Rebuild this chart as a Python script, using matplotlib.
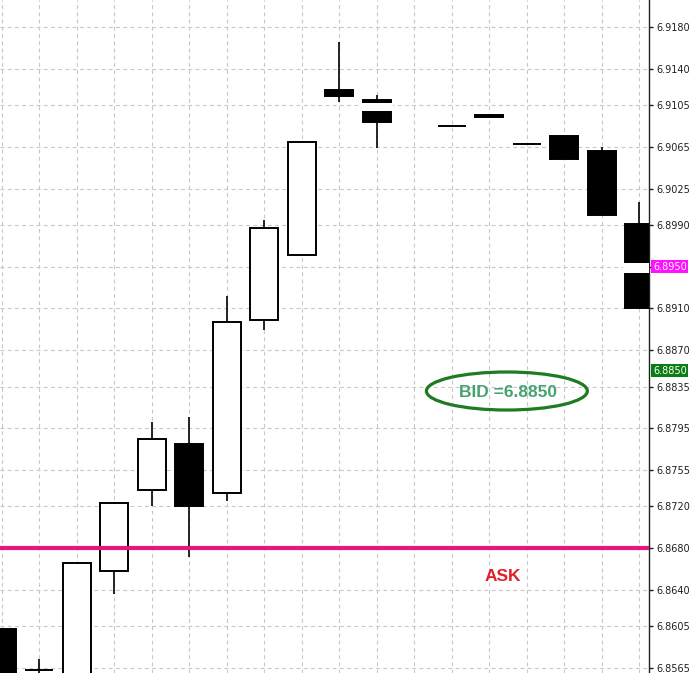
import matplotlib.pyplot as plt
import matplotlib.transforms as mtransforms
from matplotlib.patches import Ellipse

# candle data (bar index, open, high, low, close); bar 11 is missing in the picture
bar_idx = [0, 1, 2, 3, 4, 5, 6, 7, 8, 9, 10, 12, 13, 14, 15, 16, 17]
opens = [6.8602, 6.8563, 6.8540, 6.8658, 6.8736, 6.8780, 6.8733, 6.8899, 6.8961,
         6.9120, 6.9110, 6.9085, 6.9096, 6.9068, 6.9075, 6.9061, 6.8991]
highs = [6.8602, 6.8573, 6.8666, 6.8723, 6.8801, 6.8806, 6.8922, 6.8995, 6.9070,
         6.9166, 6.9115, 6.9085, 6.9096, 6.9068, 6.9075, 6.9065, 6.9012]
lows = [6.8540, 6.8550, 6.8540, 6.8636, 6.8720, 6.8671, 6.8725, 6.8889, 6.8961,
        6.9108, 6.9064, 6.9085, 6.9094, 6.9068, 6.9053, 6.9000, 6.8910]
closes = [6.8548, 6.8563, 6.8666, 6.8723, 6.8785, 6.8720, 6.8897, 6.8987, 6.9070,
          6.9114, 6.9089, 6.9085, 6.9094, 6.9068, 6.9053, 6.9000, 6.8910]

# white stripes across bodies in the screenshot (bar index, top, bottom)
gaps = [(10, 6.9107, 6.9099), (17, 6.8954, 6.8944)]

price_ticks = [6.9180, 6.9140, 6.9105, 6.9065, 6.9025, 6.8990, 6.8950, 6.8910, 6.8870,
               6.8835, 6.8795, 6.8755, 6.8720, 6.8680, 6.8640, 6.8605, 6.8565]
ask = 6.8680
bid = 6.8850
mark_price = 6.8950

fig = plt.figure(figsize=(7, 6.73), dpi=100)
ax = fig.add_axes([0, 0, 649 / 700, 1])
ax.set_xlim(-0.045, 17.26)
ax.set_ylim(6.8560, 6.9206)

# grid
for i in range(18):
    ax.axvline(i, color='#c8c8c8', lw=0.8, ls=(0, (3.5, 3)), zorder=0)
for p in price_ticks:
    ax.axhline(p, color='#c8c8c8', lw=0.8, ls=(0, (3.5, 3)), zorder=0)

# candles
w = 0.75
for i, o, h, l, c in zip(bar_idx, opens, highs, lows, closes):
    ax.vlines(i, l, h, color='black', lw=1.2, zorder=2)
    face = 'white' if c > o else 'black'
    ax.bar(i, abs(c - o), bottom=min(o, c), width=w, color=face,
           edgecolor='black', linewidth=1.4, zorder=3)
for i, top, bot in gaps:
    ax.bar(i, top - bot, bottom=bot, width=w + 0.1, color='white', lw=0, zorder=4)

# ask line
ax.axhline(ask, color='#e3187f', lw=3, zorder=5)
ax.text(0.775, 0.143, 'ASK', transform=ax.transAxes, ha='center', va='center',
        color='#e3202a', fontsize=12.5, fontweight='bold', family='Liberation Sans')

# bid bubble
ax.add_patch(Ellipse((0.781, 0.419), 0.248, 0.0565, transform=ax.transAxes,
                     fill=False, edgecolor='#1f7a22', lw=2.3, zorder=6))
ax.text(0.783, 0.417, 'BID =' + format(bid, '.4f'), transform=ax.transAxes,
        ha='center', va='center', color='#47a272', fontsize=12.5,
        fontweight='bold', family='Liberation Sans', zorder=7)

# right price axis
for s in ['left', 'top', 'bottom']:
    ax.spines[s].set_visible(False)
ax.spines['right'].set_color('#202020')
ax.spines['right'].set_linewidth(1)
ax.set_xticks([])
ax.yaxis.tick_right()
ax.set_yticks(price_ticks)
# the 6.8950 label is hidden under the magenta price box
ax.set_yticklabels(['' if p == mark_price else format(p, '.4f') for p in price_ticks])
ax.tick_params(axis='y', length=3, width=1, color='#202020', labelsize=7,
               labelcolor='#202020', pad=2)

trans = mtransforms.blended_transform_factory(ax.transAxes, ax.transData)
ax.text(1.006, mark_price, format(mark_price, '.4f'), transform=trans, va='center',
        ha='left', fontsize=7, color='white', zorder=10, clip_on=False,
        bbox=dict(boxstyle='square,pad=0.15', fc='#ff10ff', ec='none'))
ax.text(1.006, bid, format(bid, '.4f'), transform=trans, va='center', ha='left',
        fontsize=7, color='white', zorder=10, clip_on=False,
        bbox=dict(boxstyle='square,pad=0.15', fc='#0a7d14', ec='none'))

fig.savefig('out.png', dpi=100)
